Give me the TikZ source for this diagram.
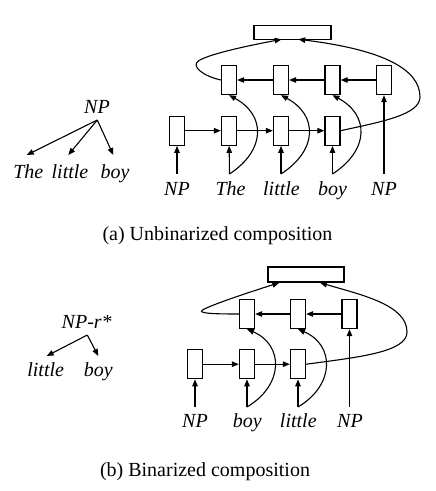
\documentclass[tikz,border=0pt]{standalone}
\usepackage{fontspec}
\setmainfont{Liberation Serif}
\usetikzlibrary{arrows.meta}
\begin{document}
\begin{tikzpicture}[x=1pt,y=-1pt,
 cell/.style={draw,line width=1.3pt,minimum width=15pt,minimum height=29pt,inner sep=0pt},
 wide/.style={draw,line width=1.3pt,minimum width=77pt,minimum height=14pt,inner sep=0pt},
 word/.style={anchor=base,inner sep=0pt,font=\fontsize{20}{24}\selectfont\itshape},
 captext/.style={anchor=base,inner sep=0pt,font=\fontsize{20}{24}\selectfont},
 arr/.style={line width=1.1pt,-{Triangle[length=7pt,width=5.5pt]}}]
\useasboundingbox (0,0) rectangle (436,491);

% ===== (a) tree =====
\node[word] (tNP) at (97,113) {NP};
\coordinate (tA) at (97.3,120);
\node[word] (tThe) at (28.3,178) {The};
\node[word] (tlittle) at (70,178) {little};
\node[word] (tboy) at (115,178) {boy};
\coordinate (eThe) at (26.7,155);
\coordinate (elittle) at (68.3,155);
\coordinate (eboy) at (113.3,155);
\draw[arr] (tA) -- (eThe);
\draw[arr] (tA) -- (elittle);
\draw[arr] (tA) -- (eboy);

% ===== (a) network =====
\node[wide] (topA) at (292.5,32.5) {};
\node[cell] (u1) at (229,80) {};
\node[cell] (u2) at (281,80) {};
\node[cell] (u3) at (332.5,80) {};
\node[cell] (u4) at (384,80) {};
\node[cell] (l0) at (177,130.7) {};
\node[cell] (l1) at (229,130.7) {};
\node[cell] (l2) at (281,130.7) {};
\node[cell] (l3) at (332.5,130.7) {};

\node[word] (wa0) at (177,195) {NP};
\node[word] (wa1) at (230.5,195) {The};
\node[word] (wa2) at (281.5,195) {little};
\node[word] (wa3) at (332.5,195) {boy};
\node[word] (wa4) at (384,195) {NP};
\coordinate (sa0) at (177,174);
\coordinate (sa1) at (229.5,174);
\coordinate (sa2) at (281,174);
\coordinate (sa3) at (332.5,174);
\coordinate (sa4) at (384,174);

\draw[arr] (sa0) -- (l0);
\draw[arr] (sa1) -- (l1);
\draw[arr] (sa2) -- (l2);
\draw[arr] (sa3) -- (l3);
\draw[arr] (sa4) -- (u4);

\draw[arr] (sa1) .. controls (266,150) and (266,115) .. (u1.south);
\draw[arr] (sa2) .. controls (318,150) and (318,115) .. (u2.south);
\draw[arr] (sa3) .. controls (369.5,150) and (369.5,115) .. (u3.south);

\draw[arr] (l0) -- (l1);
\draw[arr] (l1) -- (l2);
\draw[arr] (l2) -- (l3);
\draw[arr] (u4) -- (u3);
\draw[arr] (u3) -- (u2);
\draw[arr] (u2) -- (u1);

\coordinate (ta1) at (281.7,39.3);
\coordinate (ta2) at (298.3,39.3);
\draw[arr] (u1.west) .. controls (203,76) and (190,66) .. (199,60.5)
  .. controls (212,53) and (252,45) .. (ta1);
\draw[arr] (l3.east) .. controls (380,122) and (420,115) .. (420,97)
  .. controls (420,70) and (385,50) .. (ta2);

\node[captext] (capA) at (217.5,240) {(a) Unbinarized composition};

% ===== (b) tree =====
\node[word] (bNP) at (86.7,328.3) {NP-r*};
\coordinate (bA) at (87.3,335);
\node[word] (blittle) at (45.7,376.7) {little};
\node[word] (bboy) at (98.3,376.7) {boy};
\coordinate (eblittle) at (46.7,356);
\coordinate (ebboy) at (98.3,356);
\draw[arr] (bA) -- (eblittle);
\draw[arr] (bA) -- (ebboy);

% ===== (b) network =====
\node[wide,minimum width=76pt,minimum height=15pt] (topB) at (306,274.5) {};
\node[cell] (bu1) at (247,314) {};
\node[cell] (bu2) at (298,314) {};
\node[cell] (bu3) at (349.5,314) {};
\node[cell] (bl0) at (195,364.2) {};
\node[cell] (bl1) at (247,364.2) {};
\node[cell] (bl2) at (298,364.2) {};

\node[word] (wb0) at (195,427.3) {NP};
\node[word] (wb1) at (247.3,427.3) {boy};
\node[word] (wb2) at (298.3,427.3) {little};
\node[word] (wb3) at (350,427.3) {NP};
\coordinate (sb0) at (195,407);
\coordinate (sb1) at (247,407);
\coordinate (sb2) at (298,407);
\coordinate (sb3) at (349.5,407);

\draw[arr] (sb0) -- (bl0);
\draw[arr] (sb1) -- (bl1);
\draw[arr] (sb2) -- (bl2);
\draw[arr] (sb3) -- (bu3);

\draw[arr] (sb1) .. controls (284,385) and (284,345) .. (bu1.south);
\draw[arr] (sb2) .. controls (335,385) and (335,345) .. (bu2.south);

\draw[arr] (bl0) -- (bl1);
\draw[arr] (bl1) -- (bl2);
\draw[arr] (bu3) -- (bu2);
\draw[arr] (bu2) -- (bu1);

\coordinate (tb1) at (279.3,282.7);
\coordinate (tb2) at (320,282.7);
\draw[arr] (bu1.west) .. controls (215,314) and (197,313.5) .. (202.5,310)
  .. controls (212,304.5) and (250,292) .. (tb1);
\draw[arr] (bl2.east) .. controls (360,357) and (407,352) .. (407,332)
  .. controls (407,305) and (362,295) .. (tb2);

\node[captext] (capB) at (205,476.7) {(b) Binarized composition};
\end{tikzpicture}
\end{document}
